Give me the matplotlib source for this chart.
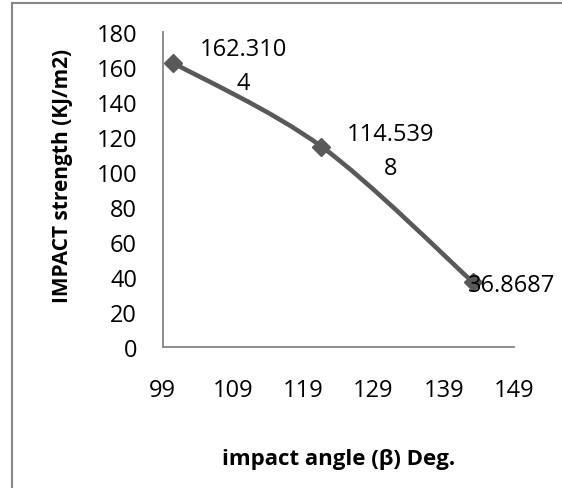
import numpy as np
import matplotlib.pyplot as plt
from matplotlib.path import Path
from matplotlib.patches import PathPatch
from matplotlib.lines import Line2D

# data
angle = [100.5, 121.6, 143.2]
strength = [162.3104, 114.5398, 36.8687]
point_labels = ['162.310\n4', '114.539\n8', '36.8687']

xticks = [99, 109, 119, 129, 139, 149]
yticks = [0, 20, 40, 60, 80, 100, 120, 140, 160, 180]

xlabel = 'impact angle (β) Deg.'
ylabel = 'IMPACT strength (KJ/m2)'

plt.rcParams['font.family'] = ['Open Sans', 'DejaVu Sans']
plt.rcParams['font.size'] = 17

line_color = '#595959'
axis_color = '#868686'

fig = plt.figure(figsize=(5.62, 4.89), dpi=100)
ax = fig.add_axes([0.2895, 0.2883, 0.9146 - 0.2895, 0.9325 - 0.2883])

# smoothed line (bezier through the points, like a spreadsheet "smooth line")
pts = np.column_stack([angle, strength])
n = len(pts)
verts = [pts[0]]
codes = [Path.MOVETO]
for i in range(n - 1):
    p0 = pts[max(i - 1, 0)]
    p1 = pts[i]
    p2 = pts[i + 1]
    p3 = pts[min(i + 2, n - 1)]
    verts += [p1 + (p2 - p0) / 6, p2 - (p3 - p1) / 6, p2]
    codes += [Path.CURVE4] * 3
ax.add_patch(PathPatch(Path(verts, codes), fill=False, ec=line_color, lw=3.3,
                       capstyle='round', joinstyle='round', zorder=2))
ax.plot(angle, strength, ls='none', marker='D', ms=9.5, color=line_color,
        mec=line_color, zorder=3)

# data labels
offsets = [(50.4, -2.0, 'center'), (49.6, -3.0, 'center'), (-3.6, -2.0, 'left')]
for x, y, lab, (dx, dy, ha) in zip(angle, strength, point_labels, offsets):
    ax.annotate(lab, (x, y), xytext=(dx, dy), textcoords='offset points',
                ha=ha, va='center', linespacing=1.55, zorder=4)

ax.set_xlim(99, 149)
ax.set_ylim(0, 180)
ax.set_xticks(xticks)
ax.set_yticks(yticks)
ax.tick_params(axis='both', length=0)
ax.tick_params(axis='x', pad=22)
ax.tick_params(axis='y', pad=18.5)

for side in ['top', 'right']:
    ax.spines[side].set_visible(False)
for side in ['left', 'bottom']:
    ax.spines[side].set_color(axis_color)
    ax.spines[side].set_linewidth(1.3)

ax.set_xlabel(xlabel, fontweight='bold', fontsize=16, va='center')
ax.xaxis.set_label_coords(0.5, (348 - 459) / 315)
ax.set_ylabel(ylabel, fontweight='bold', fontsize=15, va='center')
ax.yaxis.set_label_coords((63 - 162.7) / 351.3, (348 - 176) / 315)

# outer chart border (only top and left edges visible in the crop)
fig.add_artist(Line2D([12 / 562, 12 / 562], [0, 1 - 4 / 489], color=axis_color, lw=1.5))
fig.add_artist(Line2D([12 / 562, 1], [1 - 4 / 489, 1 - 4 / 489], color=axis_color, lw=1.5))

fig.savefig('out.png', dpi=100)
